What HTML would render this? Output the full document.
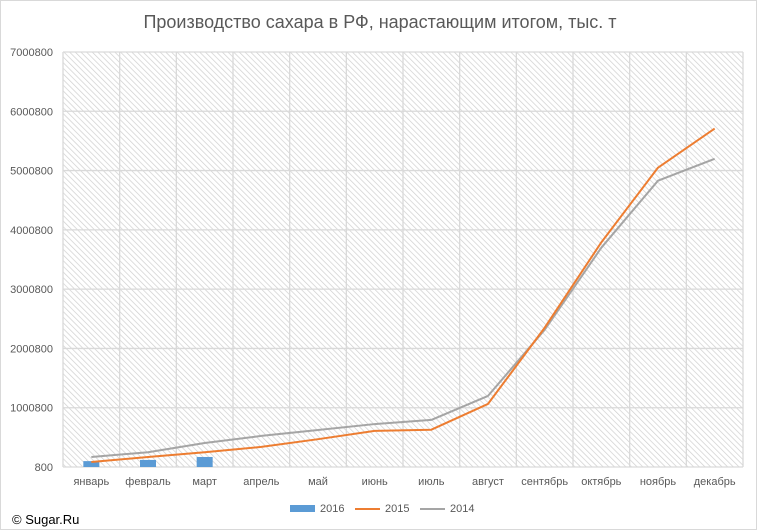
<!DOCTYPE html>
<html><head><meta charset="utf-8"><style>
body{margin:0;background:#fff;font-family:"Liberation Sans",sans-serif}
#wrap{position:relative;width:757px;height:530px;overflow:hidden}
</style></head><body>
<div id="wrap">
<svg id="chart" width="757" height="530">
<defs><pattern id="hatch" width="4" height="4" patternUnits="userSpaceOnUse" patternTransform="rotate(-45)">
<rect width="4" height="4" fill="#fff"/><line x1="0" y1="0" x2="0" y2="4" stroke="#cfcfcf" stroke-width="1.4"/></pattern></defs>
<rect x="0.5" y="0.5" width="756" height="529" fill="#fff" stroke="#d9d9d9"/>
<text x="380" y="28" text-anchor="middle" font-size="18" fill="#595959">Производство сахара в РФ, нарастающим итогом, тыс. т</text>
<g id="plot"></g>
<g>
<rect x="290" y="505" width="25" height="7" fill="#5b9bd5"/>
<text x="320" y="512" font-size="11" fill="#595959">2016</text>
<line x1="355" y1="509" x2="380" y2="509" stroke="#ed7d31" stroke-width="2"/>
<text x="385" y="512" font-size="11" fill="#595959">2015</text>
<line x1="420" y1="509" x2="445" y2="509" stroke="#a5a5a5" stroke-width="2"/>
<text x="450" y="512" font-size="11" fill="#595959">2014</text>
</g>
<text x="12" y="524" font-size="13" fill="#000">© Sugar.Ru</text>
</svg>
</div>
<script>
const categories=["январь","февраль","март","апрель","май","июнь","июль","август","сентябрь","октябрь","ноябрь","декабрь"];
const s2016=[100000,120000,170000];
const s2015=[85000,170000,250000,340000,470000,610000,630000,1065000,2350000,3790000,5050000,5710000];
const s2014=[170000,250000,405000,525000,625000,725000,795000,1200000,2315000,3700000,4830000,5200000];
const yTicks=[800,1000800,2000800,3000800,4000800,5000800,6000800,7000800];
const NS="http://www.w3.org/2000/svg";
const L=63,R=743,T=52,B=467,yMin=800,yMax=7000800;
const bw=(R-L)/categories.length;
function xs(i){return L+bw*(i+0.5);}
function ys(v){return B-(v-yMin)/(yMax-yMin)*(B-T);}
const g=document.getElementById('plot');
function mk(t,a){const e=document.createElementNS(NS,t);for(const k in a)e.setAttribute(k,a[k]);g.appendChild(e);return e;}
let bg=mk('rect',{x:L,y:T,width:R-L,height:B-T,fill:'url(#hatch)'});


yTicks.forEach(v=>{
 let l=mk('line',{x1:L,x2:R,y1:ys(v),y2:ys(v),stroke:'#d9d9d9','stroke-width':1.3});
 
 
 let t=mk('text',{x:L-10,y:ys(v)+4,'text-anchor':'end','font-size':11,fill:'#595959'});
 t.textContent=v;
 
 
});
for(let i=0;i<=categories.length;i++){
 let l=mk('line',{x1:L+bw*i,x2:L+bw*i,y1:T,y2:B,stroke:'#d9d9d9','stroke-width':1.3});
 
 
}
categories.forEach((c,i)=>{
 let t=mk('text',{x:xs(i),y:B+18,'text-anchor':'middle','font-size':11,fill:'#595959'});
 t.textContent=c;
 
 
});
s2016.forEach((v,i)=>{
 let r=mk('rect',{x:xs(i)-8,y:ys(v),width:16,height:B-ys(v),fill:'#5b9bd5'});
 
 
});
function line(d,col,name){
 let p=mk('polyline',{points:d.map((v,i)=>xs(i)+','+ys(v)).join(' '),fill:'none',stroke:col,'stroke-width':2,'stroke-linejoin':'round'});
 
 
}
line(s2014,'#a5a5a5','line-2014');
line(s2015,'#ed7d31','line-2015');
</script>
</body></html>
